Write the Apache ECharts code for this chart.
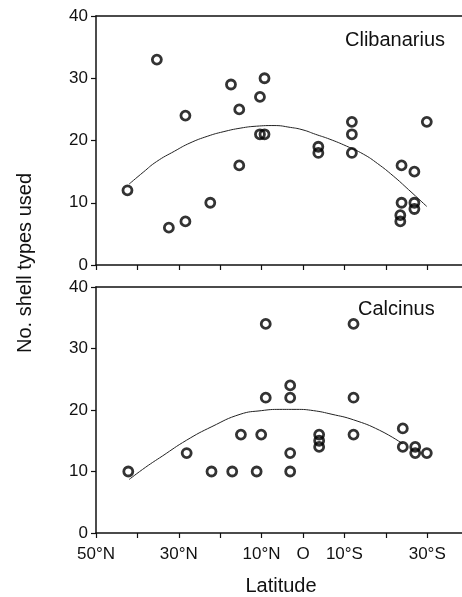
<!DOCTYPE html>
<html>
<head>
<meta charset="utf-8">
<script src="https://cdn.jsdelivr.net/npm/echarts@6/dist/echarts.min.js"></script>
<style>
    html, body { margin: 0; padding: 0; background: #fff; }
    #chart { width: 462px; height: 597px; }
</style>
</head>
<body>
<div id="chart"></div>
<script>
// latitude: N negative, S positive
const latTicks = { '-50': '50°N', '-30': '30°N', '-10': '10°N', '0': 'O', '10': '10°S', '30': '30°S' }
const latTickValues = [-50, -40, -30, -20, -10, 0, 10, 20, 30]
const latLabelValues = [-50, -30, -10, 0, 10, 30]

// Clibanarius: [latitude, no. shell types]
const clibPoints = [
    [-42.4, 12], [-35.3, 33], [-32.4, 6], [-28.4, 24], [-28.4, 7], [-22.4, 10],
    [-17.4, 29], [-15.4, 25], [-15.4, 16], [-10.4, 27], [-9.3, 30], [-10.4, 21],
    [-9.3, 21], [3.7, 19], [3.7, 18], [11.8, 23], [11.8, 21], [11.8, 18],
    [23.8, 16], [23.8, 10], [23.5, 8], [23.5, 7], [26.9, 15], [26.9, 10],
    [26.9, 9], [29.9, 23]
]
const clibCurve = [
    [-42, 13.0], [-38.6, 14.9], [-35.4, 16.6], [-31, 18.3], [-27.3, 19.6], [-23, 20.7],
    [-19.3, 21.4], [-15, 22.0], [-11.2, 22.3], [-7, 22.4], [-3, 22.1], [0, 21.7],
    [3, 21.0], [6.5, 20.2], [10.5, 19.1], [14.6, 17.8], [18, 16.3], [21.8, 14.3],
    [25.5, 12.1], [29.9, 9.4]
]

// Calcinus
const calcPoints = [
    [-42.2, 10], [-28.1, 13], [-22.1, 10], [-17.1, 10], [-15.0, 16], [-11.2, 10],
    [-10.1, 16], [-9.0, 34], [-9.0, 22], [-3.1, 24], [-3.1, 22], [-3.1, 13],
    [-3.1, 10], [3.9, 16], [3.9, 15], [3.9, 14], [12.2, 34], [12.2, 22],
    [12.2, 16], [24.1, 17], [24.1, 14], [27.1, 14], [27.1, 13], [29.9, 13]
]
const calcCurve = [
    [-42, 8.7], [-38, 10.7], [-34, 12.5], [-28.1, 15.1], [-22, 17.3], [-15.2, 19.3],
    [-10, 19.9], [-5.6, 20.1], [-1.5, 20.1], [2.5, 19.9], [7, 19.3], [12.2, 18.4],
    [18.5, 16.7], [24.1, 14.5]
]

const font = 'Liberation Sans, Arial, sans-serif'
const ink = '#111'

const chart = echarts.init(document.getElementById('chart'))

// axis runs off the right edge of the picture, so max is not a round number
const xAxisBase = (gridIndex, showLabel) => ({
    type: 'value',
    gridIndex,
    min: -50,
    max: 38.4,
    splitLine: { show: false },
    axisLine: { onZero: false, lineStyle: { color: ink, width: 1.5 } },
    axisTick: { show: true, length: 5, customValues: latTickValues, lineStyle: { color: ink, width: 1.2 } },
    axisLabel: {
        show: showLabel,
        customValues: latLabelValues,
        margin: 13,
        fontFamily: font,
        fontSize: 17,
        color: ink,
        formatter: (v) => latTicks[String(v)] || ''
    },
    name: showLabel ? 'Latitude' : '',
    nameLocation: 'middle',
    nameGap: 43,
    nameTextStyle: { fontFamily: font, fontSize: 20, color: ink, padding: [0, 0, 0, 4] }
})

// plain top frame line
const topLine = (gridIndex) => ({
    type: 'value',
    gridIndex,
    position: 'top',
    min: -50,
    max: 38.4,
    splitLine: { show: false },
    axisLine: { onZero: false, lineStyle: { color: ink, width: 1.5 } },
    axisTick: { show: false },
    axisLabel: { show: false }
})

const yAxisBase = (gridIndex) => ({
    type: 'value',
    gridIndex,
    min: 0,
    max: 40,
    interval: 10,
    splitLine: { show: false },
    axisLine: { show: true, onZero: false, lineStyle: { color: ink, width: 1.5 } },
    axisTick: { show: true, length: 5, lineStyle: { color: ink, width: 1.2 } },
    axisLabel: { margin: 8, fontFamily: font, fontSize: 17, color: ink }
})

const scatterStyle = {
    type: 'scatter',
    symbol: 'circle',
    symbolSize: 9,
    itemStyle: { color: 'rgba(0,0,0,0)', borderColor: '#000', borderWidth: 2.8 },
    z: 3
}

const curveStyle = {
    type: 'line',
    smooth: 0.5,
    showSymbol: false,
    lineStyle: { color: '#222', width: 1 },
    z: 2
}

const option = {
    animation: false,
    grid: [
        { left: 96, top: 16, right: 0, height: 249 },
        { left: 96, top: 287, right: 0, height: 246 }
    ],
    xAxis: [xAxisBase(0, false), xAxisBase(1, true), topLine(0), topLine(1)],
    yAxis: [yAxisBase(0), yAxisBase(1)],
    graphic: [
        {
            type: 'text',
            left: 345,
            top: 30,
            style: { text: 'Clibanarius', fontFamily: font, fontSize: 20, fill: ink }
        },
        {
            type: 'text',
            left: 358,
            top: 299,
            style: { text: 'Calcinus', fontFamily: font, fontSize: 20, fill: ink }
        },
        {
            type: 'text',
            x: 25,
            y: 263,
            rotation: Math.PI / 2,
            style: {
                text: 'No. shell types used',
                fontFamily: font,
                fontSize: 20,
                fill: ink,
                align: 'center',
                verticalAlign: 'middle'
            }
        }
    ],
    series: [
        { ...scatterStyle, xAxisIndex: 0, yAxisIndex: 0, data: clibPoints },
        { ...curveStyle, xAxisIndex: 0, yAxisIndex: 0, data: clibCurve },
        { ...scatterStyle, xAxisIndex: 1, yAxisIndex: 1, data: calcPoints },
        { ...curveStyle, xAxisIndex: 1, yAxisIndex: 1, data: calcCurve }
    ]
}
chart.setOption(option)
</script>
</body>
</html>
